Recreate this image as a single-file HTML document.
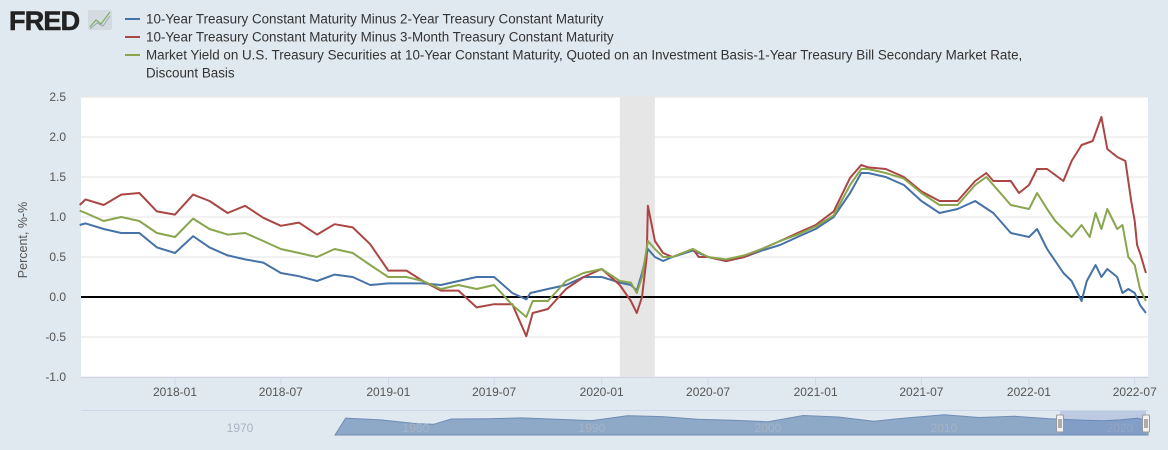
<!DOCTYPE html>
<html><head><meta charset="utf-8">
<style>
body{margin:0;width:1168px;height:450px;background:#e1e9f0;overflow:hidden;font-family:"Liberation Sans",sans-serif;}
svg{display:block}
</style></head>
<body>
<svg id="chart" width="1168" height="450" xmlns="http://www.w3.org/2000/svg">
  <rect x="0" y="0" width="1168" height="450" fill="#e1e9f0"/>
  <g>
    <text x="9" y="30" font-family="Liberation Sans, sans-serif" font-weight="bold" font-size="27" fill="#222" letter-spacing="-0.8" stroke="#222" stroke-width="0.6">FRED</text>
    <rect x="88" y="10" width="24" height="20" fill="#d3dbe1" rx="2"/>
    <polyline points="90,27 96,20 101,24 110,12" fill="none" stroke="#7fae5a" stroke-width="1.2"/>
    <polyline points="90,29 97,23 103,26 110,16" fill="none" stroke="#9ab" stroke-width="1"/>
  </g>
  <g id="legend" font-size="13.4" fill="#333"></g>
  <rect x="81" y="97" width="1067" height="280" fill="#fff"/>
  <g id="recess"></g>
  <g id="grid"></g>
  <g id="yaxis" font-size="12" fill="#555"></g>
  <g id="xaxis" font-size="12" fill="#555"></g>
  <text x="27" y="240" transform="rotate(-90 27 240)" text-anchor="middle" font-size="12.5" fill="#555">Percent, %-%</text>
  <line id="zeroline" stroke="#000" stroke-width="2"/>
  <g id="series"></g>
  <g id="nav"></g>
</svg>
<script>
const legendLabels=["10-Year Treasury Constant Maturity Minus 2-Year Treasury Constant Maturity","10-Year Treasury Constant Maturity Minus 3-Month Treasury Constant Maturity","Market Yield on U.S. Treasury Securities at 10-Year Constant Maturity, Quoted on an Investment Basis-1-Year Treasury Bill Secondary Market Rate,","Discount Basis"];
const seriesColors=["#4572a7","#aa4643","#89a54e"];
const yTicks=[2.5,2.0,1.5,1.0,0.5,0.0,-0.5,-1.0];
const xTicks=["2018-01","2018-07","2019-01","2019-07","2020-01","2020-07","2021-01","2021-07","2022-01","2022-07"];
const recession=["2020-02-01","2020-04-01"];
const blueDates=["2017-07-22","2017-08-01","2017-09-01","2017-10-01","2017-11-01","2017-12-01","2018-01-01","2018-02-01","2018-03-01","2018-04-01","2018-05-01","2018-06-01","2018-07-01","2018-08-01","2018-09-01","2018-10-01","2018-11-01","2018-12-01","2019-01-01","2019-02-01","2019-03-01","2019-04-01","2019-05-01","2019-06-01","2019-07-01","2019-08-01","2019-08-25","2019-09-01","2019-10-01","2019-11-01","2019-12-01","2020-01-01","2020-02-01","2020-02-20","2020-03-01","2020-03-10","2020-03-20","2020-04-01","2020-04-15","2020-05-01","2020-06-05","2020-07-01","2020-08-01","2020-09-01","2020-10-01","2020-11-01","2020-12-01","2021-01-01","2021-02-01","2021-03-01","2021-03-20","2021-04-01","2021-05-01","2021-06-01","2021-07-01","2021-08-01","2021-09-01","2021-10-01","2021-11-01","2021-12-01","2022-01-01","2022-01-15","2022-02-01","2022-03-01","2022-03-15","2022-04-01","2022-04-10","2022-04-25","2022-05-05","2022-05-15","2022-06-01","2022-06-10","2022-06-20","2022-07-01","2022-07-10","2022-07-20"];
const blueValues=[0.9,0.92,0.85,0.8,0.8,0.62,0.55,0.76,0.62,0.52,0.47,0.43,0.3,0.26,0.2,0.28,0.25,0.15,0.17,0.17,0.17,0.15,0.2,0.25,0.25,0.05,-0.03,0.05,0.1,0.15,0.25,0.25,0.18,0.15,0.08,0.3,0.6,0.5,0.45,0.5,0.58,0.5,0.45,0.5,0.58,0.65,0.75,0.85,1.0,1.3,1.55,1.55,1.5,1.4,1.2,1.05,1.1,1.2,1.05,0.8,0.75,0.85,0.6,0.3,0.2,-0.05,0.2,0.4,0.25,0.35,0.25,0.05,0.1,0.05,-0.1,-0.2];
const redDates=["2017-07-22","2017-08-01","2017-09-01","2017-10-01","2017-11-01","2017-12-01","2018-01-01","2018-02-01","2018-03-01","2018-04-01","2018-05-01","2018-06-01","2018-07-01","2018-08-01","2018-09-01","2018-10-01","2018-11-01","2018-12-01","2019-01-01","2019-02-01","2019-03-01","2019-04-01","2019-05-01","2019-06-01","2019-07-01","2019-08-01","2019-08-25","2019-09-05","2019-10-01","2019-11-01","2019-12-01","2020-01-01","2020-02-01","2020-02-20","2020-03-01","2020-03-10","2020-03-18","2020-03-20","2020-04-01","2020-04-15","2020-05-01","2020-06-05","2020-06-15","2020-07-01","2020-08-01","2020-09-01","2020-10-01","2020-11-01","2020-12-01","2021-01-01","2021-02-01","2021-03-01","2021-03-20","2021-04-01","2021-05-01","2021-06-01","2021-07-01","2021-08-01","2021-09-01","2021-10-01","2021-10-20","2021-11-01","2021-12-01","2021-12-15","2022-01-01","2022-01-15","2022-02-01","2022-03-01","2022-03-15","2022-04-01","2022-04-20","2022-05-05","2022-05-15","2022-06-01","2022-06-15","2022-06-25","2022-07-01","2022-07-05","2022-07-10","2022-07-20"];
const redValues=[1.15,1.22,1.15,1.28,1.3,1.07,1.03,1.28,1.2,1.05,1.14,0.99,0.89,0.93,0.78,0.91,0.87,0.66,0.33,0.33,0.2,0.08,0.08,-0.13,-0.09,-0.09,-0.49,-0.2,-0.15,0.1,0.25,0.35,0.15,-0.05,-0.2,0.0,0.5,1.14,0.7,0.55,0.5,0.6,0.5,0.5,0.45,0.5,0.6,0.7,0.8,0.9,1.07,1.49,1.65,1.62,1.6,1.5,1.32,1.2,1.2,1.45,1.55,1.45,1.45,1.3,1.4,1.6,1.6,1.45,1.7,1.9,1.95,2.25,1.85,1.75,1.7,1.2,0.95,0.65,0.55,0.3];
const greenDates=["2017-07-22","2017-08-01","2017-09-01","2017-10-01","2017-11-01","2017-12-01","2018-01-01","2018-02-01","2018-03-01","2018-04-01","2018-05-01","2018-06-01","2018-07-01","2018-08-01","2018-09-01","2018-10-01","2018-11-01","2018-12-01","2019-01-01","2019-02-01","2019-03-01","2019-04-01","2019-05-01","2019-06-01","2019-07-01","2019-08-01","2019-08-25","2019-09-05","2019-10-01","2019-11-01","2019-12-01","2020-01-01","2020-02-01","2020-02-20","2020-03-01","2020-03-10","2020-03-20","2020-04-01","2020-04-15","2020-05-01","2020-06-05","2020-07-01","2020-08-01","2020-09-01","2020-10-01","2020-11-01","2020-12-01","2021-01-01","2021-02-01","2021-03-01","2021-03-20","2021-04-01","2021-05-01","2021-06-01","2021-07-01","2021-08-01","2021-09-01","2021-10-01","2021-10-20","2021-11-01","2021-12-01","2022-01-01","2022-01-15","2022-02-01","2022-02-15","2022-03-01","2022-03-15","2022-04-01","2022-04-15","2022-04-25","2022-05-05","2022-05-15","2022-06-01","2022-06-10","2022-06-20","2022-07-01","2022-07-10","2022-07-20"];
const greenValues=[1.08,1.05,0.95,1.0,0.95,0.8,0.75,0.98,0.85,0.78,0.8,0.7,0.6,0.55,0.5,0.6,0.55,0.4,0.25,0.25,0.2,0.1,0.15,0.1,0.15,-0.1,-0.25,-0.05,-0.05,0.2,0.3,0.35,0.2,0.18,0.05,0.25,0.7,0.6,0.5,0.5,0.6,0.5,0.47,0.52,0.6,0.7,0.78,0.88,1.02,1.4,1.6,1.6,1.55,1.48,1.3,1.15,1.15,1.4,1.5,1.4,1.15,1.1,1.3,1.1,0.95,0.85,0.75,0.9,0.75,1.05,0.85,1.1,0.85,0.9,0.5,0.4,0.1,-0.05];
const navYears=[1976,1978,1980,1981,1982,1984,1986,1988,1990,1992,1994,1996,1998,2000,2002,2004,2006,2008,2010,2012,2014,2016,2018,2019,2020,2021,2022];
const navValues=[1.3,0.5,-1.2,-1.5,0.9,1.0,1.4,0.8,0.2,2.4,2.0,0.8,0.3,-0.3,2.5,1.8,-0.1,1.5,2.8,1.6,2.2,1.0,0.3,0.1,0.5,1.3,0.1];

const NS="http://www.w3.org/2000/svg";
function mk(tag,attrs,parent){const e=document.createElementNS(NS,tag);for(const k in attrs)e.setAttribute(k,attrs[k]);parent.appendChild(e);return e;}
const L=81,R=1148,T=97,B=377,yMin=-1,yMax=2.5;
const t0=Date.UTC(2018,0,1),pxPerDay=0.5845,x0=175;
function xScale(d){const p=d.split('-').map(Number);const t=Date.UTC(p[0],p[1]-1,p[2]||1);return x0+(t-t0)/86400000*pxPerDay;}
function yScale(v){return B-(v-yMin)/(yMax-yMin)*(B-T);}

const lg=document.getElementById('legend');
legendLabels.forEach((s,i)=>{
  if(i<3){const ln=mk('line',{x1:125,x2:140,y1:19+i*18,y2:19+i*18,stroke:seriesColors[i],'stroke-width':2},lg);
  
  }
  const t=mk('text',{x:146,y:23.5+i*18},lg);t.textContent=s;
  
  
});
const rc=mk('rect',{x:xScale(recession[0]),y:T,width:xScale(recession[1])-xScale(recession[0]),height:B-T,fill:'#e6e6e6'},document.getElementById('recess'));


const gy=document.getElementById('grid'),ya=document.getElementById('yaxis');
yTicks.forEach(v=>{
  const y=yScale(v);
  const g=mk('line',{x1:L,x2:R,y1:y,y2:y,stroke:'#e6e6e6','stroke-width':1},gy);
  
  
  const t=mk('text',{x:66,y:y+4,'text-anchor':'end'},ya);t.textContent=v.toFixed(1);
  
  
});
const xa=document.getElementById('xaxis');
mk('line',{x1:L,x2:R,y1:B+0.5,y2:B+0.5,stroke:'#ccd6eb'},xa);
xTicks.forEach(s=>{
  const x=xScale(s+'-01');
  const tk=mk('line',{x1:x,x2:x,y1:B,y2:B+8,stroke:'#ccd6eb'},xa);
  
  
  const t=mk('text',{x:x,y:396,'text-anchor':'middle'},xa);t.textContent=s;
  
  
});
const z=document.getElementById('zeroline');z.setAttribute('x1',L);z.setAttribute('x2',R);z.setAttribute('y1',yScale(0));z.setAttribute('y2',yScale(0));
const sg=document.getElementById('series');
[[blueDates,blueValues,'blue-series-t10y2y'],[redDates,redValues,'red-series-t10y3m'],[greenDates,greenValues,'green-series-10y-1y']].forEach((s,i)=>{
  const pts=s[0].map((d,j)=>xScale(d).toFixed(1)+','+yScale(s[1][j]).toFixed(1)).join(' ');
  const p=mk('polyline',{points:pts,fill:'none',stroke:seriesColors[i],'stroke-width':2,'stroke-linejoin':'round'},sg);
  
  
});
const nv=document.getElementById('nav');
const nl=mk('line',{x1:L,x2:R,y1:410.5,y2:410.5,stroke:'#ccd6eb'},nv);


function nx(yr){return Math.min(1148,240+(yr-1970)*17.6);}
function ny(v){return 421-v*2.2;}
const navLabels=[1970,1980,1990,2000,2010,2020];
let ap='335,435 '+navYears.map((yr,j)=>nx(yr).toFixed(1)+','+ny(navValues[j]).toFixed(1)).join(' ')+' 1148,435';
const ar=mk('polygon',{points:ap,fill:'#8ea8c8',stroke:'#6f8db5','stroke-width':1},nv);


navLabels.forEach(yr=>{const t=mk('text',{x:nx(yr),y:432,'text-anchor':'middle','font-size':12,fill:'#a8b4c2'},nv);t.textContent=yr;
  
  });
const sel=mk('rect',{x:1060,y:411,width:86,height:24,fill:'rgba(102,133,194,0.3)'},nv);


[1060,1146].forEach((x,i)=>{const h=mk('rect',{x:x-3.5,y:415,width:7,height:17,fill:'#f2f2f2',stroke:'#999','stroke-width':1,rx:1},nv);
  
  
  mk('line',{x1:x-1,x2:x-1,y1:419,y2:428,stroke:'#666'},nv);mk('line',{x1:x+1,x2:x+1,y1:419,y2:428,stroke:'#666'},nv);});
</script>
</body></html>
